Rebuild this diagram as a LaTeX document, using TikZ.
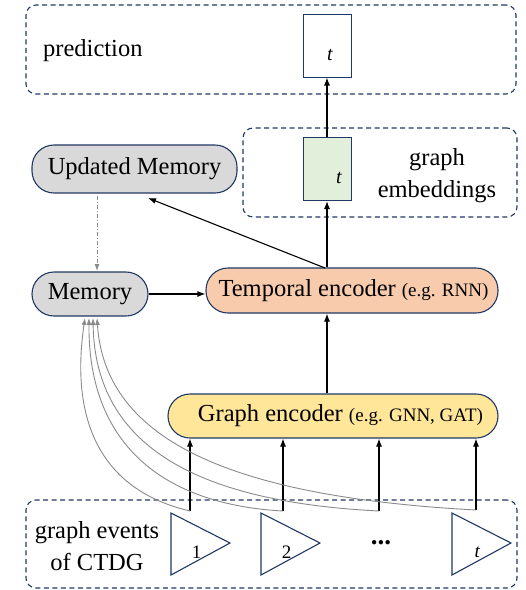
\documentclass[tikz,border=0pt]{standalone}
\usepackage{fontspec}
\setmainfont{Liberation Serif}
\usetikzlibrary{arrows.meta,positioning}

\definecolor{navy}{HTML}{203864}
\definecolor{memfill}{HTML}{D9D9D9}
\definecolor{tempfill}{HTML}{F8CBAD}
\definecolor{gencfill}{HTML}{FFE699}
\definecolor{embfill}{HTML}{E2EFDA}
\definecolor{linkgray}{HTML}{8A8A8A}

\newcommand\egfont{\fontsize{19}{21}\selectfont}

\tikzset{
  group/.style={draw=navy, line width=1.1pt, dash pattern=on 5pt off 3.5pt,
    rounded corners=10pt, inner sep=0pt},
  pill/.style={draw=navy, line width=1.1pt, rounded corners=22pt, inner sep=0pt,
    font=\fontsize{24.5}{27}\selectfont},
  vecbox/.style={draw=navy, line width=1pt, inner sep=0pt,
    minimum width=48pt, minimum height=63pt},
  lbl/.style={font=\fontsize{24.5}{32}\selectfont, inner sep=0pt},
  flow/.style={line width=1.1pt, -{Latex[length=8pt,width=6pt]}},
  memlink/.style={linkgray, line width=0.9pt, -{Latex[length=7pt,width=5pt]}},
  event/.style={draw=navy, line width=1.1pt, fill=white}
}

\begin{document}
\begin{tikzpicture}[x=1pt,y=-1pt]
\useasboundingbox (0,0) rectangle (526,590);

% dashed groups
\node[group, minimum width=490pt, minimum height=89pt] (predgrp) at (271,49.5) {};
\node[group, minimum width=274pt, minimum height=89pt] (embgrp) at (380,172.5) {};
\node[group, minimum width=491pt, minimum height=88pt] (evgrp) at (271.5,544) {};

\node[lbl, anchor=west] (predlbl) at (43,51) {prediction};
\node[lbl, align=center] (emblbl) at (437,176) {graph\\embeddings};
\node[lbl, align=center] (evlbl) at (97,546) {graph events\\of CTDG};

% output and embedding vectors
\node[vecbox, fill=white] (pred) at (327,45.5) {};
\node[lbl, font=\fontsize{20}{20}\selectfont\itshape] (predt) at (330,55) {t};
\node[vecbox, fill=embfill] (emb) at (327,169) {};
\node[lbl, font=\fontsize{20}{20}\selectfont\itshape] (embt) at (339,178) {t};

% processing blocks
\node[pill, fill=memfill, minimum width=205pt, minimum height=48pt] (umem) at (134.5,169) {Updated Memory};
\node[pill, fill=memfill, minimum width=116pt, minimum height=44pt] (mem) at (90,294) {Memory};
\node[pill, fill=tempfill, minimum width=292pt, minimum height=45pt] (temp) at (352,290.5)
  {\hspace*{3pt}Temporal encoder {\egfont(e.g. RNN)}};
\node[pill, fill=gencfill, minimum width=330pt, minimum height=44pt] (genc) at (333,416)
  {\hspace*{15pt}Graph encoder {\egfont(e.g. GNN, GAT)}};

% graph event triangles
\foreach \i/\x/\lab in {1/171/1, 2/261/2, 3/452/\textit{t}} {
  \draw[event] (\x,513) -- (\x+59,543) -- (\x,575) -- cycle;
  \node[lbl, font=\fontsize{19}{19}\selectfont] (tri\i) at (\x+25.5,552) {\lab};
}
\node[lbl, font=\fontsize{27}{27}\selectfont\bfseries] (dots) at (381,543) {...};

% feet of the event links
\coordinate (e1) at (190,511);
\coordinate (e2) at (283,511);
\coordinate (e3) at (379,511);
\coordinate (e4) at (476,510);
\coordinate (tempout) at (325,268);
\coordinate (umemin) at (148,198);
\coordinate (updtop) at (97,196);
\coordinate (updbot) at (97,271);

% main flow
\draw[flow] (emb.north) -- (pred.south);
\draw[flow] (temp.north -| emb.south) -- (emb.south);
\draw[flow] (tempout) -- (umemin);
\draw[flow] (genc.north -| emb.south) -- (temp.south -| emb.south);
\draw[flow] (mem.east) -- (temp.west |- mem.east);
\foreach \k in {1,...,4} \draw[flow] (e\k) -- (e\k |- genc.south);

% memory update and event links back to memory
\draw[linkgray, line width=0.9pt, dash pattern=on 4pt off 2pt on 1pt off 2pt,
  -{Latex[length=7pt,width=5pt]}] (updtop) -- (updbot);
\draw[memlink] (e1) .. controls (100,490) and (70,420) .. (85,318);
\draw[memlink] (e2) .. controls (170,505) and (88,450) .. (89,318);
\draw[memlink] (e3) .. controls (200,502) and (95,448) .. (93,318);
\draw[memlink] (e4) .. controls (235,497) and (105,442) .. (97,318);
\end{tikzpicture}
\end{document}
